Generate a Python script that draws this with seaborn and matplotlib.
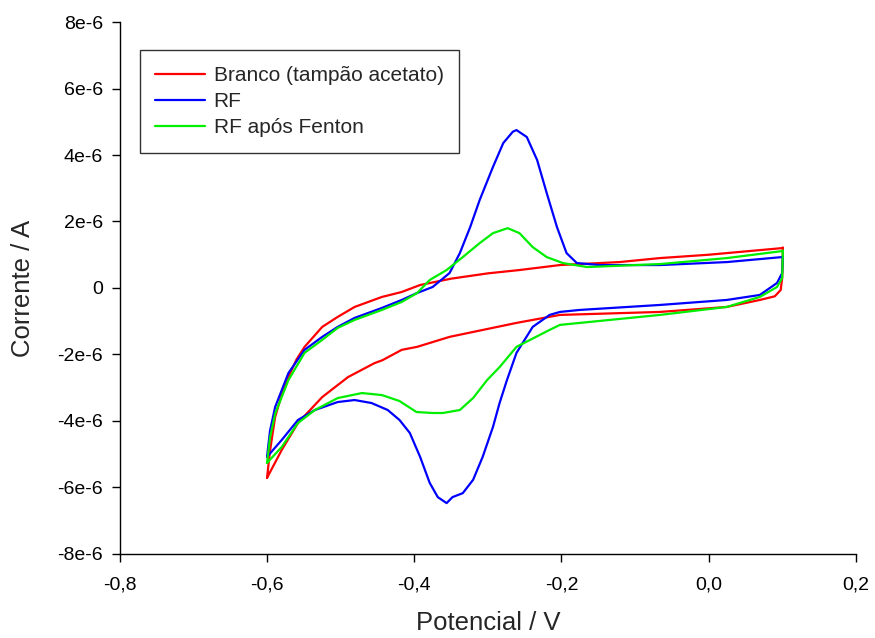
import matplotlib
matplotlib.use("Agg")
import matplotlib.pyplot as plt
import seaborn as sns
import pandas as pd

# Cyclic voltammograms: each loop starts at -0.6 V, sweeps up to +0.1 V
# (anodic branch) and returns to -0.6 V (cathodic branch). Current in uA.
branco_E = [-0.600, -0.596, -0.589, -0.580, -0.571, -0.560, -0.549, -0.525, -0.504,
            -0.481, -0.444, -0.417, -0.392, -0.350, -0.300, -0.257, -0.202, -0.121,
            -0.066, 0.000, 0.050, 0.100,
            0.101, 0.100, 0.098, 0.090, 0.0696, 0.0247, -0.066, -0.202, -0.261,
            -0.352, -0.396, -0.417, -0.443, -0.454, -0.490, -0.525, -0.558, -0.580,
            -0.600]
branco_I = [-5.71, -4.90, -3.88, -3.20, -2.68, -2.15, -1.77, -1.17, -0.87,
            -0.57, -0.27, -0.12, 0.09, 0.28, 0.44, 0.54, 0.69, 0.78,
            0.90, 1.00, 1.10, 1.20,
            1.22, 0.30, -0.06, -0.25, -0.36, -0.57, -0.72, -0.81, -1.05,
            -1.47, -1.77, -1.86, -2.17, -2.26, -2.68, -3.28, -4.06, -4.87,
            -5.71]

rf_E = [-0.600, -0.596, -0.589, -0.571, -0.549, -0.525, -0.504, -0.481, -0.444,
        -0.417, -0.396, -0.375, -0.352, -0.338, -0.324, -0.311, -0.293, -0.279,
        -0.266, -0.261, -0.247, -0.233, -0.220, -0.206, -0.193, -0.179, -0.148,
        -0.066, 0.025, 0.100,
        0.101, 0.100, 0.093, 0.0696, 0.0247, -0.066, -0.175, -0.202, -0.216,
        -0.239, -0.261, -0.274, -0.284, -0.293, -0.307, -0.320, -0.334, -0.348,
        -0.356, -0.368, -0.379, -0.392, -0.406, -0.420, -0.436, -0.458, -0.481,
        -0.504, -0.535, -0.558, -0.580, -0.600]
rf_I = [-5.08, -4.30, -3.58, -2.56, -1.86, -1.47, -1.17, -0.90, -0.60,
        -0.36, -0.15, 0.03, 0.45, 1.05, 1.83, 2.65, 3.64, 4.36,
        4.70, 4.75, 4.54, 3.85, 2.86, 1.83, 1.05, 0.75, 0.69,
        0.69, 0.78, 0.93,
        0.95, 0.45, 0.15, -0.21, -0.36, -0.51, -0.66, -0.72, -0.81,
        -1.17, -1.95, -2.77, -3.46, -4.18, -5.08, -5.77, -6.17, -6.29,
        -6.47, -6.29, -5.86, -5.08, -4.36, -3.97, -3.67, -3.46, -3.37,
        -3.43, -3.67, -3.97, -4.57, -5.08]

fenton_E = [-0.600, -0.596, -0.589, -0.571, -0.549, -0.525, -0.504, -0.481, -0.444,
            -0.417, -0.396, -0.379, -0.356, -0.334, -0.311, -0.293, -0.273, -0.257,
            -0.239, -0.220, -0.198, -0.165, -0.066, 0.025, 0.100,
            0.101, 0.100, 0.093, 0.0696, 0.0247, -0.066, -0.202, -0.216, -0.261,
            -0.284, -0.301, -0.320, -0.338, -0.361, -0.375, -0.397, -0.420, -0.444,
            -0.471, -0.504, -0.535, -0.558, -0.580, -0.600]
fenton_I = [-5.26, -4.50, -3.78, -2.77, -1.95, -1.56, -1.20, -0.96, -0.66,
            -0.42, -0.15, 0.24, 0.54, 0.93, 1.35, 1.65, 1.80, 1.65,
            1.23, 0.93, 0.75, 0.63, 0.72, 0.90, 1.11,
            1.13, 0.30, 0.03, -0.27, -0.57, -0.81, -1.11, -1.26, -1.77,
            -2.38, -2.77, -3.31, -3.67, -3.76, -3.76, -3.73, -3.40, -3.22,
            -3.16, -3.31, -3.67, -4.06, -4.78, -5.26]

series_names = ["Branco (tampão acetato)", "RF", "RF após Fenton"]
series_colors = ["#ff0000", "#0000ff", "#00ee00"]

x_ticks = [-0.8, -0.6, -0.4, -0.2, 0.0, 0.2]
x_tick_labels = ["-0,8", "-0,6", "-0,4", "-0,2", "0,0", "0,2"]
y_ticks = [-8e-6, -6e-6, -4e-6, -2e-6, 0.0, 2e-6, 4e-6, 6e-6, 8e-6]
y_tick_labels = ["-8e-6", "-6e-6", "-4e-6", "-2e-6", "0", "2e-6", "4e-6", "6e-6", "8e-6"]

frames = []
for name, E, I in zip(series_names,
                      [branco_E, rf_E, fenton_E],
                      [branco_I, rf_I, fenton_I]):
    frames.append(pd.DataFrame({
        "Potencial": E,
        "Corrente": [v * 1e-6 for v in I],
        "Amostra": name,
        "ordem": range(len(E)),
    }))
df = pd.concat(frames, ignore_index=True)

sns.set_style("ticks")
plt.rcParams["font.family"] = ["Liberation Sans", "DejaVu Sans"]

fig = plt.figure(figsize=(8.75, 6.38), dpi=100)
ax = fig.add_axes([0.137, 0.1317, 0.841, 0.8338])

sns.lineplot(data=df, x="Potencial", y="Corrente", hue="Amostra",
             units="Amostra", estimator=None, sort=False,
             palette=dict(zip(series_names, series_colors)),
             linewidth=1.6, ax=ax, legend=False)

ax.set_xlim(-0.8, 0.2)
ax.set_ylim(-8e-6, 8e-6)
ax.set_xticks(x_ticks)
ax.set_xticklabels(x_tick_labels)
ax.set_yticks(y_ticks)
ax.set_yticklabels(y_tick_labels)
ax.tick_params(axis="both", direction="out", length=6, width=1, labelsize=14,
               colors="black")
ax.tick_params(axis="y", pad=6)
ax.tick_params(axis="x", pad=10)
for side in ("top", "right"):
    ax.spines[side].set_visible(False)
for side in ("left", "bottom"):
    ax.spines[side].set_color("black")
    ax.spines[side].set_linewidth(1.0)

ax.set_xlabel("Potencial / V", fontsize=18.5, labelpad=13)
ax.set_ylabel("Corrente / A", fontsize=18.5, labelpad=16)

handles = [plt.Line2D([], [], color=c, lw=1.6) for c in series_colors]
leg = ax.legend(handles, series_names, loc="upper left",
                bbox_to_anchor=(0.027, 0.947), fontsize=15,
                frameon=True, fancybox=False, edgecolor="black",
                handlelength=2.4, handletextpad=0.4, labelspacing=0.35,
                borderpad=0.75, borderaxespad=0)
leg.get_frame().set_linewidth(1.0)

fig.savefig("out.png", dpi=100)
